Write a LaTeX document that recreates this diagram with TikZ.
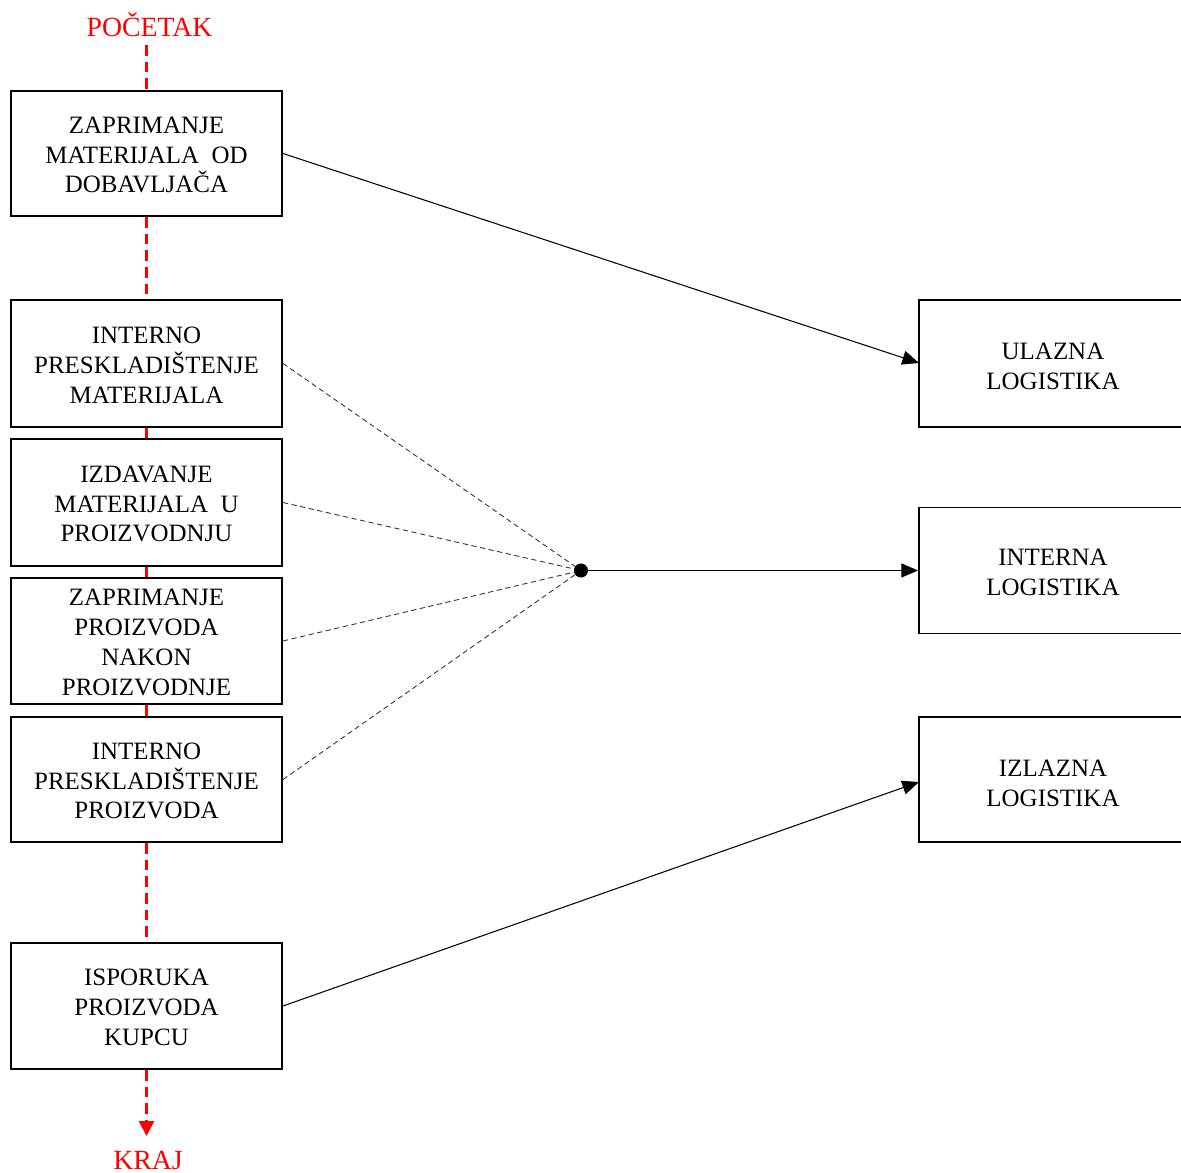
\documentclass[tikz,border=0pt]{standalone}
\usepackage{fontspec}
\setmainfont{Liberation Serif}
\usetikzlibrary{arrows.meta}
\begin{document}
\begin{tikzpicture}[x=0.02cm,y=-0.02cm,
  box/.style={draw=black,line width=1.1pt,fill=none,inner sep=0pt},
  boxtext/.style={align=center,font=\fontsize{14.2pt}{17pt}\selectfont,inner sep=0pt},
  flow/.style={draw=red,line width=1.5pt,dash pattern=on 6pt off 3.5pt},
  link/.style={draw=black,line width=0.6pt,-{Triangle[length=9.5pt,width=8pt]}},
  feed/.style={draw=black!80,line width=0.5pt,dash pattern=on 3pt off 2pt},
  redlabel/.style={text=red,font=\fontsize{15.8pt}{19pt}\selectfont,inner sep=0pt}]
\useasboundingbox (0,0) rectangle (1181,1173);
\clip (0,0) rectangle (1181,1173);
% left column
\node[box,minimum width=271*0.02cm,minimum height=125*0.02cm] (b1) at (146.5,153.5) {};
\node[box,minimum width=271*0.02cm,minimum height=127*0.02cm] (b2) at (146.5,363.5) {};
\node[box,minimum width=271*0.02cm,minimum height=127*0.02cm] (b3) at (146.5,502.5) {};
\node[box,minimum width=271*0.02cm,minimum height=126*0.02cm] (b4) at (146.5,641) {};
\node[box,minimum width=271*0.02cm,minimum height=125*0.02cm] (b5) at (146.5,779.5) {};
\node[box,minimum width=271*0.02cm,minimum height=126*0.02cm] (b6) at (146.5,1006) {};
\node[boxtext] at (146.5,155) {ZAPRIMANJE\\MATERIJALA\ \ OD\\DOBAVLJAČA};
\node[boxtext] at (146.5,365) {INTERNO\\PRESKLADIŠTENJE\\MATERIJALA};
\node[boxtext] at (146.5,504) {IZDAVANJE\\MATERIJALA\ \ U\\PROIZVODNJU};
\node[boxtext] at (146.5,642.5) {ZAPRIMANJE\\PROIZVODA\\NAKON\\PROIZVODNJE};
\node[boxtext] at (146.5,781) {INTERNO\\PRESKLADIŠTENJE\\PROIZVODA};
\node[boxtext] at (146.5,1007.5) {ISPORUKA\\PROIZVODA\\KUPCU};
% right column
\node[box,minimum width=266*0.02cm,minimum height=127*0.02cm] (r1) at (1052,363.5) {};
\node[box,minimum width=266*0.02cm,minimum height=126*0.02cm] (r2) at (1052,570.5) {};
\node[box,minimum width=266*0.02cm,minimum height=125*0.02cm] (r3) at (1052,779.5) {};
\node[boxtext] at (1053,366) {ULAZNA\\LOGISTIKA};
\node[boxtext] at (1053,572) {INTERNA\\LOGISTIKA};
\node[boxtext] at (1053,783) {IZLAZNA\\LOGISTIKA};
% labels
\node[redlabel] (start) at (149.5,25) {POČETAK};
\node[redlabel] (end) at (148,1160) {KRAJ};
% red flow
\coordinate (s0) at (146.5,45);
\coordinate (e0) at (146.5,1136);
\draw[flow] (s0) -- (b1.north);
\draw[flow] (b1.south) -- (b2.north);
\draw[flow] (b2.south) -- (b3.north);
\draw[flow] (b3.south) -- (b4.north);
\draw[flow] (b4.south) -- (b5.north);
\draw[flow] (b5.south) -- (b6.north);
\draw[flow,-{Triangle[length=8.5pt,width=8.5pt,fill=red]}] (b6.south) -- (e0);
% hub
\coordinate (hub) at (581,570.5);
\draw[feed] (b2.east) -- (hub);
\draw[feed] (b3.east) -- (hub);
\draw[feed] (b4.east) -- (hub);
\draw[feed] (b5.east) -- (hub);
\fill[black] (hub) circle (4pt);
% links
\coordinate (t1) at (919,363);
\coordinate (t3) at (919,782);
\draw[link] (b1.east) -- (t1);
\draw[link] (hub) -- (r2.west);
\draw[link] (b6.east) -- (t3);
\end{tikzpicture}
\end{document}
